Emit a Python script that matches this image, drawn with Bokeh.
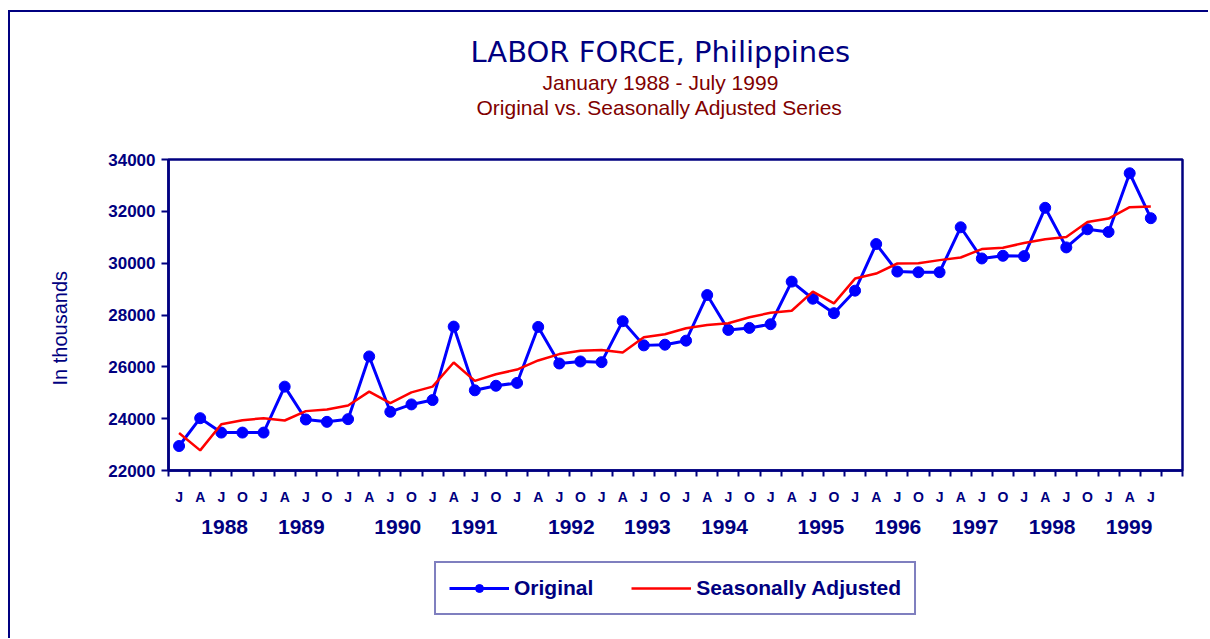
from bokeh.plotting import figure
from bokeh.models import Range1d, FixedTicker, Legend, LegendItem, Title, LinearAxis
from bokeh.layouts import column
from bokeh.embed import file_html
from bokeh.resources import INLINE

# ---- data (quarterly, Jan 1988 - Jul 1999, in thousands) ----
months = ["J", "A", "J", "O"] * 11 + ["J", "A", "J"]
years = ["1988", "1989", "1990", "1991", "1992", "1993",
         "1994", "1995", "1996", "1997", "1998", "1999"]
year_label_pos = [2.16, 5.79, 10.35, 13.97, 18.57, 22.17,
                  25.82, 30.38, 34.03, 37.68, 41.33, 44.97]
original = [22945, 24019, 23463, 23463,
            23463, 25236, 23968, 23877,
            23981, 26401, 24265, 24550,
            24718, 27553, 25094, 25270,
            25379, 27540, 26129, 26207,
            26181, 27761, 26828, 26854,
            27010, 28770, 27424, 27502,
            27644, 29288, 28628, 28071,
            28939, 30738, 29676, 29650,
            29650, 31385, 30181, 30285,
            30272, 32136, 30608, 31307,
            31204, 33469, 31735]
seasonal = [23450, 22777, 23786, 23942,
            24019, 23929, 24291, 24356,
            24511, 25042, 24602, 25016,
            25236, 26168, 25456, 25715,
            25896, 26246, 26492, 26621,
            26647, 26557, 27139, 27256,
            27489, 27618, 27683, 27916,
            28084, 28162, 28900, 28447,
            29405, 29599, 29987, 30000,
            30117, 30220, 30544, 30595,
            30777, 30919, 31010, 31592,
            31722, 32162, 32188]
y_ticks = [22000, 24000, 26000, 28000, 30000, 32000, 34000]
x = list(range(len(original)))

NAVY = "#000080"
DARKRED = "#800000"
BLUE = "#0000FF"
RED = "#FF0000"
ARIAL = "Liberation Sans"

p = figure(frame_width=1012, frame_height=309,
           min_border_left=158, min_border_right=28,
           min_border_top=147, min_border_bottom=80,
           x_range=Range1d(-0.5, 47.5), y_range=Range1d(22000, 34000),
           output_backend="svg", toolbar_location=None,
           background_fill_color="white", border_fill_color="white")
p.styles = {"margin-left": "8px", "margin-top": "10px",
            "border-left": "2px solid #000080", "border-top": "2px solid #000080"}

p.outline_line_color = NAVY
p.outline_line_width = 2.5
p.outline_line_alpha = 1
p.xgrid.visible = False
p.ygrid.visible = False

# x axis: month letters at category centres, ticks at boundaries
xa = p.xaxis[0]
xa.ticker = FixedTicker(ticks=x, minor_ticks=[i - 0.5 for i in range(49)])
xa.major_label_overrides = {i: m for i, m in enumerate(months)}
xa.major_tick_out = 0
xa.major_tick_in = 0
xa.minor_tick_out = 6
xa.minor_tick_in = 0
xa.minor_tick_line_color = NAVY
xa.minor_tick_line_width = 2
xa.axis_line_color = NAVY
xa.axis_line_width = 2.5
xa.major_label_text_font = ARIAL
xa.major_label_text_font_size = "14px"
xa.major_label_text_font_style = "bold"
xa.major_label_text_color = NAVY
xa.major_label_standoff = 12

# second axis row: years
ya2 = LinearAxis(ticker=FixedTicker(ticks=year_label_pos),
                 major_label_overrides={pos: yr for pos, yr in zip(year_label_pos, years)},
                 axis_line_color=None, major_tick_line_color=None,
                 minor_tick_line_color=None, major_tick_out=0, major_tick_in=0,
                 minor_tick_out=0, minor_tick_in=0,
                 major_label_standoff=12,
                 major_label_text_font=ARIAL, major_label_text_font_size="21px",
                 major_label_text_font_style="bold", major_label_text_color=NAVY)
p.add_layout(ya2, "below")

ya = p.yaxis[0]
ya.ticker = FixedTicker(ticks=y_ticks)
ya.major_tick_out = 7
ya.major_tick_in = 0
ya.minor_tick_out = 0
ya.minor_tick_in = 0
ya.major_tick_line_color = NAVY
ya.major_tick_line_width = 2
ya.axis_line_color = NAVY
ya.axis_line_width = 2.5
ya.major_label_text_font = ARIAL
ya.major_label_text_font_size = "17px"
ya.major_label_text_font_style = "bold"
ya.major_label_text_color = NAVY
ya.major_label_standoff = 6

# y axis title as a left-side title, so that it can sit a little below centre
p.add_layout(Title(text="In thousands", align="left", offset=85, standoff=70,
                   text_font=ARIAL, text_font_size="20px", text_font_style="normal",
                   text_color=NAVY), "left")

# series
p.line(x, original, line_color=BLUE, line_width=3)
p.scatter(x, original, size=11, fill_color=BLUE, line_color=BLUE)
p.line(x, seasonal, line_color=RED, line_width=2.5)

# titles (closest to the frame first); a blank spacer keeps the gap to the frame
p.add_layout(Title(text=" ", text_font=ARIAL, text_font_size="10px",
                   standoff=28), "above")
p.add_layout(Title(text="Original vs. Seasonally Adjusted Series", align="left",
                   offset=308, standoff=0, text_font=ARIAL, text_font_size="21px",
                   text_font_style="normal", text_color=DARKRED), "above")
p.add_layout(Title(text="January 1988 - July 1999", align="left",
                   offset=374, standoff=0, text_font=ARIAL, text_font_size="21px",
                   text_font_style="normal", text_color=DARKRED), "above")
p.add_layout(Title(text="LABOR FORCE, Philippines", align="left",
                   offset=302, standoff=0, text_font="DejaVu Sans", text_font_size="29px",
                   text_font_style="normal", text_color=NAVY), "above")

# legend strip below the chart (frame aligned with the chart's frame)
lg = figure(frame_width=1012, frame_height=60,
            min_border_left=158, min_border_right=28,
            min_border_top=10, min_border_bottom=20,
            x_range=Range1d(0, 1), y_range=Range1d(0, 1),
            x_axis_type=None, y_axis_type=None,
            output_backend="svg", toolbar_location=None,
            background_fill_color="white", border_fill_color="white")
lg.styles = {"margin-left": "8px", "border-left": "2px solid #000080"}
lg.outline_line_color = None
lg.xgrid.visible = False
lg.ygrid.visible = False
d_bl = lg.line([-10, -9], [-10, -9], line_color=BLUE, line_width=3)
d_bs = lg.scatter([-10], [-10], size=11, fill_color=BLUE, line_color=BLUE)
d_rl = lg.line([-10, -9], [-10, -9], line_color=RED, line_width=2.5)

legend = Legend(items=[LegendItem(label="Original", renderers=[d_bl, d_bs]),
                       LegendItem(label="Seasonally Adjusted", renderers=[d_rl])],
                location="center", orientation="horizontal",
                margin=0, padding=13, spacing=38, label_standoff=5,
                glyph_width=60, glyph_height=20,
                label_text_font=ARIAL, label_text_font_size="21px",
                label_text_font_style="bold", label_text_color=NAVY,
                border_line_color=NAVY, border_line_width=2.5,
                background_fill_color="white", background_fill_alpha=1)
lg.add_layout(legend)

layout = column(p, lg, spacing=0)
open("out.html", "w").write(file_html(layout, INLINE))
